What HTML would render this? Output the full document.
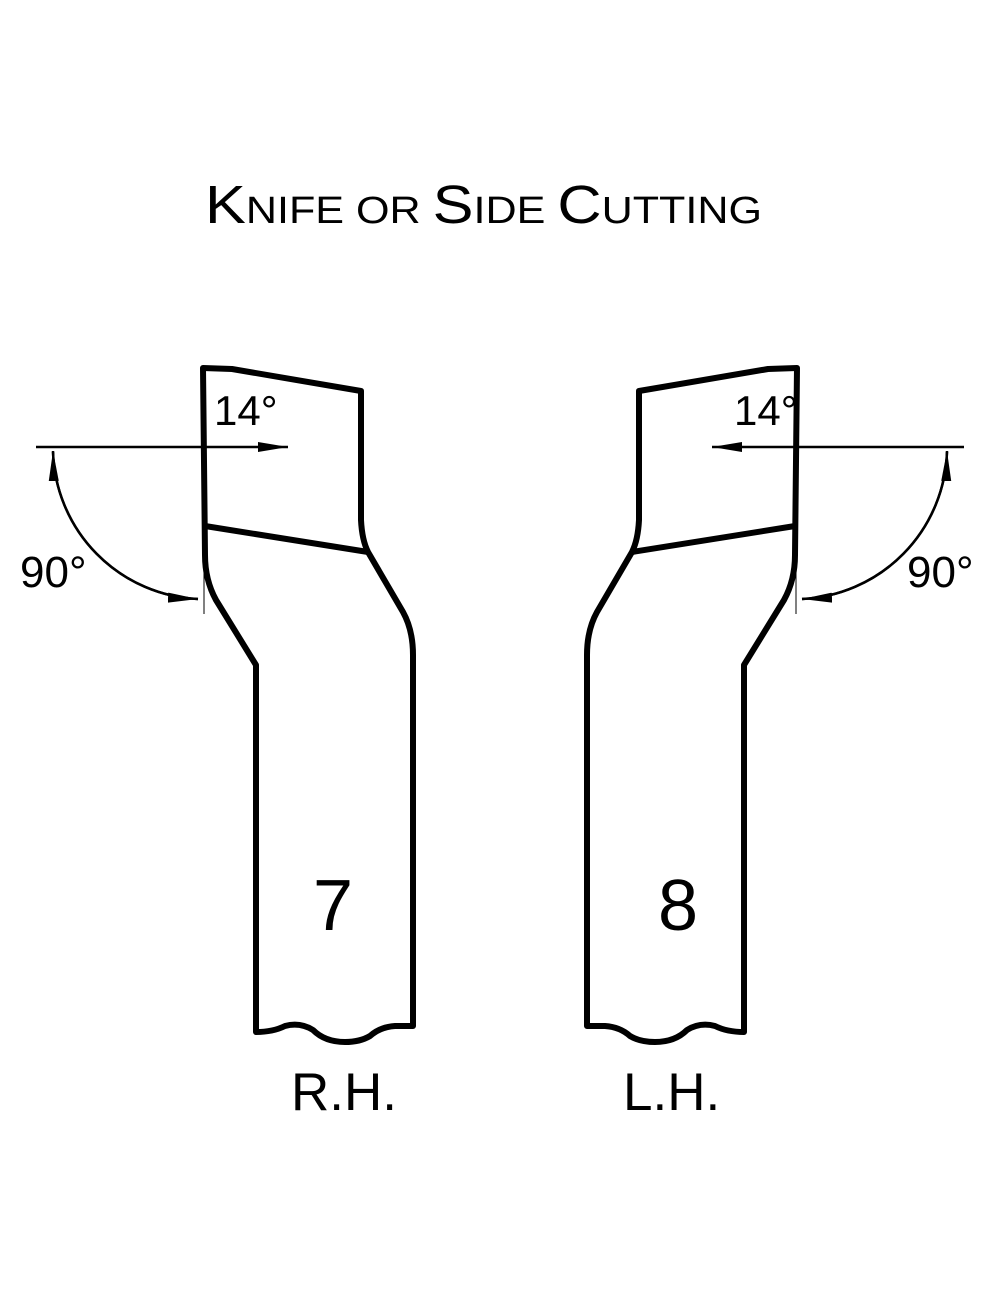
<!DOCTYPE html>
<html><head><meta charset="utf-8"><style>
html,body{margin:0;padding:0;background:#fff;}
svg{display:block;}
text{font-family:"Liberation Sans",sans-serif;fill:#000;}
</style></head><body>
<svg width="1000" height="1300" viewBox="0 0 1000 1300" xmlns="http://www.w3.org/2000/svg">
<defs>
<marker id="ah" viewBox="0 0 30 12" refX="30" refY="6" markerWidth="30" markerHeight="12" markerUnits="userSpaceOnUse" orient="auto">
<path d="M0,1 L30,6 L0,11 Z" fill="#000"/></marker>
</defs>
<text x="205" y="223" font-size="54" textLength="557" lengthAdjust="spacingAndGlyphs">K<tspan font-size="38">NIFE OR </tspan>S<tspan font-size="38">IDE </tspan>C<tspan font-size="38">UTTING</tspan></text>

<g fill="none" stroke="#000" stroke-width="6" stroke-linejoin="round">
<path d="M203,368 L232,369 L361,391 L361,520 Q362,540 368,552 L403,612 Q413,630 413,655 L413,1026 L395,1026 Q380,1027 370,1036 Q360,1042 345,1042 Q325,1042 313,1030 Q300,1022 285,1026 Q273,1032 256,1032 L256,665 L216,600 Q205,580 205,555 L203,368 Z"/>
<path d="M205,526 L368,552"/>
<path d="M797,368 L768,369 L639,391 L639,520 Q638,540 632,552 L597,612 Q587,630 587,655 L587,1026 L605,1026 Q620,1027 630,1036 Q640,1042 655,1042 Q675,1042 687,1030 Q700,1022 715,1026 Q727,1032 744,1032 L744,665 L784,600 Q795,580 795,555 L797,368 Z"/>
<path d="M795,526 L632,552"/>
</g>
<g fill="none" stroke="#000" stroke-width="2.5">
<line x1="36" y1="447" x2="288" y2="447" marker-end="url(#ah)"/>
<path d="M53,452 A152,152 0 0 0 198,599" marker-end="url(#ah)"/>
<path d="M198,599 A152,152 0 0 1 53,451" marker-end="url(#ah)"/>
<line x1="964" y1="447" x2="712" y2="447" marker-end="url(#ah)"/>
<path d="M947,452 A152,152 0 0 1 802,599" marker-end="url(#ah)"/>
<path d="M802,599 A152,152 0 0 0 947,451" marker-end="url(#ah)"/>
</g>
<g stroke="#000" stroke-width="1">
<line x1="204" y1="570" x2="204" y2="614"/>
<line x1="796" y1="570" x2="796" y2="614"/>
</g>
<text x="214" y="425" font-size="42">14°</text>
<text x="734" y="425" font-size="42">14°</text>
<text x="20" y="587" font-size="44">90°</text>
<text x="907" y="587" font-size="44">90°</text>
<text x="313" y="930" font-size="72">7</text>
<text x="658" y="930" font-size="72">8</text>
<text x="291" y="1110" font-size="53">R.H.</text>
<text x="623" y="1110" font-size="53">L.H.</text>
</svg>
</body></html>
